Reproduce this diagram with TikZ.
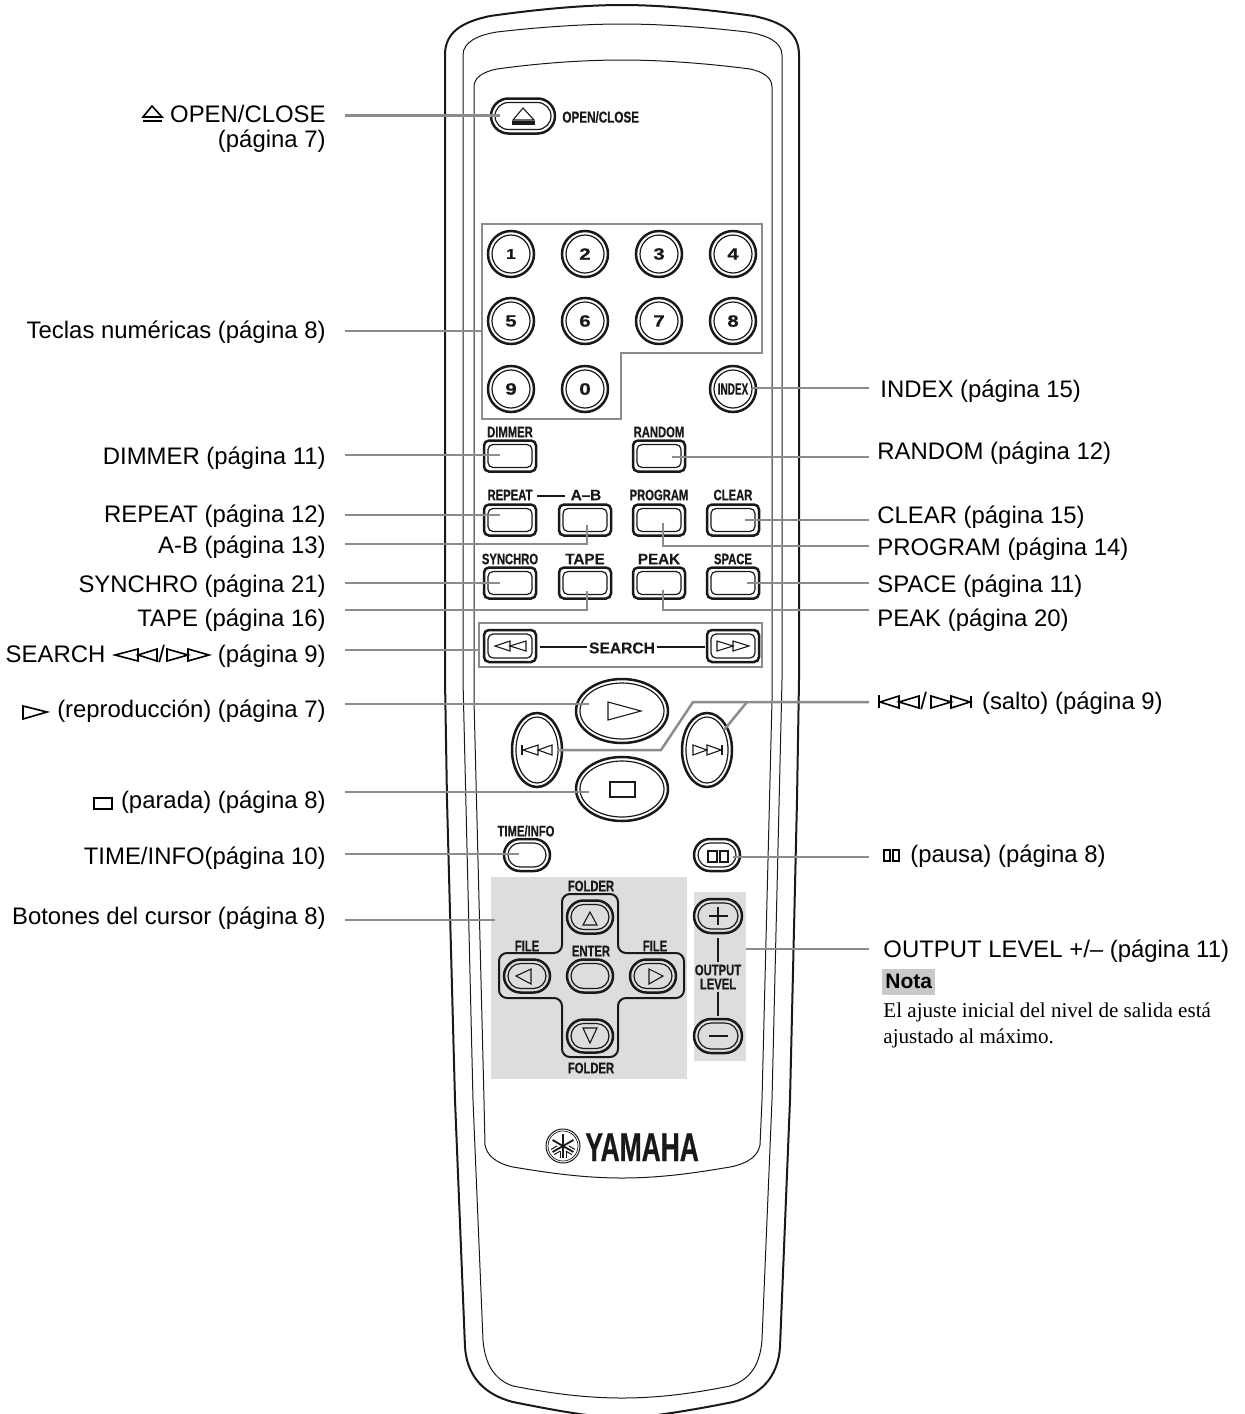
\documentclass[tikz,border=0pt]{standalone}
\usepackage{fontspec}
\usepackage{graphicx}
\setmainfont{Liberation Sans}
\newfontfamily\serifnote{Liberation Serif}
\newfontfamily\cond{Liberation Sans}[FakeStretch=.74,BoldFeatures={FakeBold=.6}]
\newfontfamily\normb{Liberation Sans}[BoldFeatures={FakeBold=.3}]
\newfontfamily\wideb{Liberation Sans}[FakeStretch=1.25,BoldFeatures={FakeBold=.5}]
\newfontfamily\yam{Liberation Sans}[FakeStretch=.66,BoldFeatures={FakeBold=.6}]
\usetikzlibrary{shapes.geometric,shapes.misc}
\definecolor{conn}{HTML}{8A8C8E}
\definecolor{panel}{HTML}{DCDDDE}
\definecolor{notag}{HTML}{C8C9CA}
\tikzset{
  bodyouter/.style={line width=1pt,black!90},
  bodyinner/.style={line width=.5pt,black!90},
  connline/.style={line width=1.25pt,conn},
  graybox/.style={line width=1.4pt,conn},
  keyouter/.style={draw,line width=1.25pt,inner sep=0,black!90},
  keyinner/.style={draw,line width=.6pt,inner sep=0,black!90},
  keybox/.style={rectangle,rounded corners=2.5pt},
  keypill/.style={rounded rectangle},
  keyoval/.style={ellipse},
  sym/.style={line width=.55pt,black!90},
  lsym/.style={line width=.8pt,black},
  lab/.style={font=\fontsize{11.95}{14}\selectfont,inner sep=0,anchor=base east},
  labr/.style={font=\fontsize{11.95}{14}\selectfont,inner sep=0,anchor=base west},
  ks/.style={font=\cond\bfseries\fontsize{7.6}{8}\selectfont,inner sep=0,text=black!90},
  kn/.style={font=\normb\bfseries\fontsize{7.6}{8}\selectfont,inner sep=0,text=black!90},
  digitk/.style={font=\wideb\bfseries\fontsize{8.2}{9}\selectfont,inner sep=0,text=black!90},
  keyrule/.style={line width=1pt,black!90},
}
\newcommand{\KeyShape}[6]{%
  \node[keyouter,#1,minimum width=#5*.5pt,minimum height=#6*.5pt] (#2) at (#3,#4) {};
  \node[keyinner,#1,minimum width=(#5-8)*.5pt,minimum height=(#6-8)*.5pt] (#2in) at (#2.center) {};}
\newcommand{\NumKey}[4]{%
  \KeyShape{keyoval}{#1}{#2}{#3}{46}{46}
  \node[digitk] (#1t) at (#1.center) {#4};}
\begin{document}
\begin{tikzpicture}[x=.5pt,y=-.5pt]
\useasboundingbox (0,0) rectangle (1244,1414);
\clip (0,0) rectangle (1244,1414);
% body
\draw[bodyouter] (445,55) .. controls (445,32) and (462,22) .. (490,16) .. controls (540,9) and (585,5) .. (622,5) .. controls (659,5) and (704,9) .. (754,16) .. controls (782,22) and (799,32) .. (799,55) -- (799,680) -- (797,800) -- (790,1100) -- (780,1347) .. controls (778,1378) and (760,1395) .. (733,1402) .. controls (708,1407) and (680,1412) .. (657,1415) -- (622,1418) -- (587,1415) .. controls (564,1412) and (538,1407) .. (513,1402) .. controls (486,1395) and (467,1378) .. (465,1347) -- (455,1100) -- (447,800) -- (445,680) -- cycle;
\draw[bodyinner] (463,55) .. controls (463,42) and (478,35) .. (497,32) .. controls (540,27) and (585,24) .. (622,24) .. controls (659,24) and (704,27) .. (747,32) .. controls (767,35) and (782,42) .. (782,55) -- (782,680) -- (772,1100) -- (762,1340) .. controls (760,1365) and (750,1380) .. (730,1386) .. controls (695,1393) and (660,1398) .. (622,1398) .. controls (584,1398) and (549,1393) .. (513,1386) .. controls (495,1380) and (485,1365) .. (483,1340) -- (473,1100) -- (463,680) -- cycle;
\draw[bodyinner] (474,87) .. controls (474,78) and (482,72) .. (497,69) .. controls (540,63) and (585,60) .. (622,60) .. controls (659,60) and (704,63) .. (750,69) .. controls (764,72) and (772,78) .. (772,87) -- (772,700) -- (762,1100) -- (760,1145) .. controls (758,1155) and (750,1163) .. (730,1167) .. controls (695,1173) and (660,1178) .. (622,1178) .. controls (584,1178) and (549,1173) .. (513,1167) .. controls (495,1163) and (487,1155) .. (485,1145) -- (484,1100) -- (474,700) -- cycle;
% panels
\fill[panel] (491,877) rectangle (687,1079);
\fill[panel] (694,892) rectangle (746,1061);
\draw[graybox] (482,224) -- (762,224) -- (762,353) -- (621,353) -- (621,419) -- (482,419) -- cycle;
\draw[graybox] (479,623) rectangle (762,667);
% eject
\KeyShape{keypill}{kopen}{523}{116}{64}{35}
\draw[sym] (513,120) -- (523,108) -- (534,120) -- cycle;
\draw[sym] (513,122) rectangle (534,124);
\node[ks,anchor=west,font=\cond\bfseries\fontsize{7.9}{8}\selectfont] (topen) at (562,117) {OPEN/CLOSE};
% numbers
\NumKey{k1}{511}{254}{\fontsize{7}{8}\selectfont 1}
\NumKey{k2}{585}{254}{2}
\NumKey{k3}{659}{254}{3}
\NumKey{k4}{733}{254}{4}
\NumKey{k5}{511}{321}{5}
\NumKey{k6}{585}{321}{6}
\NumKey{k7}{659}{321}{7}
\NumKey{k8}{733}{321}{8}
\NumKey{k9}{511}{389}{9}
\NumKey{k0}{585}{389}{0}
\KeyShape{keyoval}{kindex}{733}{389}{46}{46}
\node[ks] (tindex) at (733,389) {\scalebox{.82}[1]{\fontsize{8.2}{9}\selectfont INDEX}};
% rect keys
\KeyShape{keybox}{kdim}{510}{456}{52}{31}
\KeyShape{keybox}{krand}{659}{456}{52}{31}
\KeyShape{keybox}{krep}{510}{520}{52}{31}
\KeyShape{keybox}{kab}{585}{520}{52}{31}
\KeyShape{keybox}{kprog}{659}{520}{52}{31}
\KeyShape{keybox}{kclear}{733}{520}{52}{31}
\KeyShape{keybox}{ksyn}{510}{583}{52}{31}
\KeyShape{keybox}{ktape}{585}{583}{52}{31}
\KeyShape{keybox}{kpeak}{659}{583}{52}{31}
\KeyShape{keybox}{kspace}{733}{583}{52}{31}
\node[ks] (tdim) at (510,432) {DIMMER};
\node[ks] (trand) at (659,432) {RANDOM};
\node[ks] (trep) at (510,495) {REPEAT};
\node[kn] (tab) at (586,495) {A–B};
\node[ks] (tprog) at (659,495) {PROGRAM};
\node[ks] (tclear) at (733,495) {CLEAR};
\node[ks] (tsyn) at (510,559) {SYNCHRO};
\node[kn] (ttape) at (585,559) {TAPE};
\node[kn] (tpeak) at (659,559) {PEAK};
\node[ks] (tspace) at (733,559) {SPACE};
\coordinate (abl) at (537,496);
\coordinate (abr) at (565,496);
\draw[keyrule] (abl) -- (abr);
% search
\KeyShape{keybox}{ksl}{510}{646}{52}{32}
\KeyShape{keybox}{ksr}{733}{646}{52}{32}
\node[kn,font=\normb\bfseries\fontsize{7.8}{8}\selectfont] (tsearch) at (622,648) {SEARCH};
\coordinate (sl1) at (540,647);
\coordinate (sl2) at (587,647);
\coordinate (sr1) at (657,647);
\coordinate (sr2) at (705,647);
\draw[keyrule] (sl1) -- (sl2);
\draw[keyrule] (sr1) -- (sr2);
\draw[sym] (495,646) -- (510,641) -- (510,651) -- cycle (510,646) -- (526,641) -- (526,651) -- cycle;
\draw[sym] (717,641) -- (717,651) -- (733,646) -- cycle (733,641) -- (733,651) -- (749,646) -- cycle;
% transport
\KeyShape{keyoval}{kplay}{622}{711}{92}{64}
\KeyShape{keyoval}{kstop}{622}{789}{92}{64}
\KeyShape{keyoval}{kprev}{537}{750}{50}{74}
\KeyShape{keyoval}{knext}{707}{750}{50}{74}
\draw[sym] (608,702) -- (608,720) -- (641,711) -- cycle;
\draw[sym] (610,782) rectangle (635,797);
\fill[black!90] (521,745) rectangle (523,755);
\draw[sym] (523,750) -- (538,745) -- (538,755) -- cycle (538,750) -- (552,745) -- (552,755) -- cycle;
\fill[black!90] (721,745) rectangle (723,755);
\draw[sym] (693,745) -- (693,755) -- (707,750) -- cycle (707,745) -- (707,755) -- (721,750) -- cycle;
% time, pause
\KeyShape{keypill}{ktime}{527}{855}{46}{32}
\KeyShape{keypill}{kpause}{717}{855}{46}{32}
\node[ks] (ttime) at (526,831) {TIME/INFO};
\draw[sym] (708,851) rectangle (717,862) (720,851) rectangle (728,862);
% cursor
\draw[line width=1pt,black!90,rounded corners=4pt] (562,894) -- (618,894) -- (618,953) -- (684,953) -- (684,998) -- (618,998) -- (618,1057) -- (562,1057) -- (562,998) -- (499,998) -- (499,953) -- (562,953) -- cycle;
\KeyShape{keypill}{kup}{590}{917}{46}{33}
\KeyShape{keypill}{kleft}{527}{976}{46}{33}
\KeyShape{keypill}{kenter}{590}{976}{46}{33}
\KeyShape{keypill}{kright}{653}{976}{46}{33}
\KeyShape{keypill}{kdown}{590}{1036}{46}{33}
\draw[sym] (583,925) -- (590,912) -- (597,925) -- cycle;
\draw[sym] (583,1028) -- (597,1028) -- (590,1043) -- cycle;
\draw[sym] (516,976) -- (531,969) -- (531,984) -- cycle;
\draw[sym] (649,969) -- (649,984) -- (663,976) -- cycle;
\node[ks] (tfu) at (591,886) {FOLDER};
\node[ks] (tfd) at (591,1068) {FOLDER};
\node[ks] (tfl) at (527,946) {FILE};
\node[ks] (tfr) at (655,946) {FILE};
\node[ks] (tent) at (591,951) {ENTER};
% output level
\KeyShape{keypill}{kplus}{718}{916}{48}{34}
\KeyShape{keypill}{kminus}{718}{1036}{48}{34}
\draw[line width=1.4pt,black!90] (709,916) -- (728,916) (718,907) -- (718,925);
\draw[line width=1.4pt,black!90] (709,1036) -- (728,1036);
\node[ks] (tout) at (718,970) {OUTPUT};
\node[ks] (tlev) at (718,984) {LEVEL};
\draw[keyrule] ([shift={(0,4)}]kplus.south) -- ([shift={(0,-2)}]tout.north);
\draw[keyrule] ([shift={(0,2)}]tlev.south) -- ([shift={(0,-2)}]kminus.north);
% logo
\coordinate (logo) at (563,1146);
\draw[line width=.5pt,black!90] (logo) circle (17);
\draw[line width=.35pt,black!90] (logo) circle (15);
\foreach \a in {90,30,150}{
  \begin{scope}[shift={(logo)},rotate=\a]
    \draw[line width=.9pt,black!90] (-12,0) -- (12,0);
    \draw[line width=.5pt,black!90] (-12,-3) -- (-5,-3) (-12,3) -- (-5,3);
  \end{scope}}
\node[font=\yam\bfseries\fontsize{20}{22}\selectfont,inner sep=0,anchor=base west,text=black!90] (yamaha) at (585,1161) {YAMAHA};
% left labels
\node[lab] (lopen) at (326,122.5) {OPEN/CLOSE};
\node[lab] (lopen2) at (326,147) {(página 7)};
\draw[lsym] (143,117) -- (152,106) -- (162,117) -- cycle;
\fill (143,119.5) rectangle (162,122);
\node[lab] (lnum) at (326,338) {Teclas numéricas (página 8)};
\node[lab] (ldim) at (326,464.5) {DIMMER (página 11)};
\node[lab] (lrep) at (326,522) {REPEAT (página 12)};
\node[lab] (lab2) at (326,553.5) {A-B (página 13)};
\node[lab] (lsyn) at (326,592.5) {SYNCHRO (página 21)};
\node[lab] (ltape) at (326,626.5) {TAPE (página 16)};
\node[lab] (lsearch) at (326,662) {SEARCH\hspace{26.5pt}/\hspace{26.5pt}(página 9)};
\draw[lsym] (115,655) -- (138,649) -- (138,661) -- cycle (138,655) -- (157,649) -- (157,661) -- cycle;
\draw[lsym] (167,649) -- (167,661) -- (188,655) -- cycle (188,649) -- (188,661) -- (209,655) -- cycle;
\node[lab] (lplay) at (326,717) {(reproducción) (página 7)};
\draw[lsym] (23,706) -- (23,719) -- (47,712) -- cycle;
\node[lab] (lstop) at (326,808) {(parada) (página 8)};
\draw[lsym] (94,798) rectangle (112,809);
\node[lab] (ltime) at (326,864) {TIME/INFO(página 10)};
\node[lab] (lcur) at (326,924) {Botones del cursor (página 8)};
% right labels
\node[labr] (rindex) at (880,397) {INDEX (página 15)};
\node[labr] (rrand) at (877,459.5) {RANDOM (página 12)};
\node[labr] (rclear) at (877,523.5) {CLEAR (página 15)};
\node[labr] (rprog) at (877,555.5) {PROGRAM (página 14)};
\node[labr] (rspace) at (877,592.5) {SPACE (página 11)};
\node[labr] (rpeak) at (877,626.5) {PEAK (página 20)};
\node[labr] (rskip) at (879,709) {\hspace{20.5pt}/\hspace{27.5pt}(salto) (página 9)};
\fill (878,695) rectangle (880,708);
\draw[lsym] (880,702) -- (899,696) -- (899,708) -- cycle (899,702) -- (919,696) -- (919,708) -- cycle;
\draw[lsym] (931,696) -- (931,708) -- (951,702) -- cycle (951,696) -- (951,708) -- (970,702) -- cycle;
\fill (970,696) rectangle (972,708);
\node[labr] (rpause) at (910,862) {(pausa) (página 8)};
\draw[lsym] (884,850) rectangle (890,861) (893,850) rectangle (899,861);
\node[labr] (rout) at (883,957) {OUTPUT LEVEL +/– (página 11)};
\node[fill=notag,anchor=north west,inner sep=0,minimum width=26.5pt,minimum height=13pt] (notabg) at (882,969) {};
\node[font=\bfseries\fontsize{10.5}{12}\selectfont,inner sep=0,anchor=base west] (nota) at (885,988) {Nota};
\node[font=\serifnote\fontsize{10.55}{13}\selectfont,inner sep=0,anchor=base west] (n1) at (883,1017) {El ajuste inicial del nivel de salida está};
\node[font=\serifnote\fontsize{10.55}{13}\selectfont,inner sep=0,anchor=base west] (n2) at (883,1043) {ajustado al máximo.};
% connector ends
\foreach \n/\x/\y in {aopen/345/115.5,bopen/500/115.5,anum/345/331,bnum/483/331,adim/345/455,bdim/500/455,arep/345/515,brep/500/515,aab/345/544,cab/587/544,bab/587/525,asyn/345/583,bsyn/500/583,atape/345/610,ctape/587/610,btape/587/591,asearch/345/650,bsearch/480/650,aplay/345/704,bplay/589/704,astop/345/792,bstop/589/792,atime/345/854,btime/519/854,acur/345/920,bcur/495/920,rai/869/388,rbi/753/388,rar/869/457,rbr/672/457,rac/869/520,rbc/745/520,rap/869/546,rcp/663/546,rbp/663/523,ras/869/583,rbs/747/583,rak/869/610,rck/663/610,rbk/663/590,rax/869/702,rcx/693/702,rdx/661/750,rbx/557/750,rex/747/702,rfx/724/730,raq/869/857,rbq/733/857,rao/869/949,rbo/746/949}
  \coordinate (\n) at (\x,\y);
\draw[connline] (aopen) -- (bopen);
\draw[connline] (anum) -- (bnum);
\draw[connline] (adim) -- (bdim);
\draw[connline] (arep) -- (brep);
\draw[connline] (aab) -- (cab) -- (bab);
\draw[connline] (asyn) -- (bsyn);
\draw[connline] (atape) -- (ctape) -- (btape);
\draw[connline] (asearch) -- (bsearch);
\draw[connline] (aplay) -- (bplay);
\draw[connline] (astop) -- (bstop);
\draw[connline] (atime) -- (btime);
\draw[connline] (acur) -- (bcur);
\draw[connline] (rai) -- (rbi);
\draw[connline] (rar) -- (rbr);
\draw[connline] (rac) -- (rbc);
\draw[connline] (rap) -- (rcp) -- (rbp);
\draw[connline] (ras) -- (rbs);
\draw[connline] (rak) -- (rck) -- (rbk);
\draw[connline] (rax) -- (rcx) -- (rdx) -- (rbx);
\draw[connline] (rex) -- (rfx);
\draw[connline] (raq) -- (rbq);
\draw[connline] (rao) -- (rbo);
\end{tikzpicture}
\end{document}
